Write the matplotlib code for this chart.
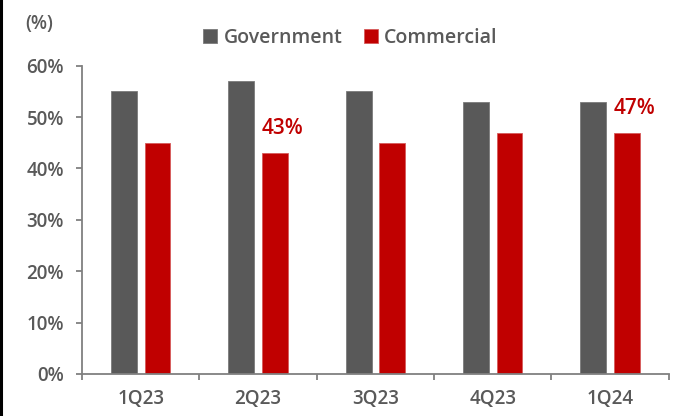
import matplotlib
matplotlib.use("Agg")
import matplotlib.pyplot as plt
import numpy as np
from matplotlib.lines import Line2D

plt.rcParams['font.family'] = ['Open Sans', 'DejaVu Sans']

quarters = ["1Q23", "2Q23", "3Q23", "4Q23", "1Q24"]
government = [55, 57, 55, 53, 53]
commercial = [45, 43, 45, 47, 47]
labelled = {1: "43%", 4: "47%"}
y_ticks = [0, 10, 20, 30, 40, 50, 60]

GREY = "#595959"
RED = "#C00000"
AXIS = "#808080"
TEXT_W = "semibold"

fig = plt.figure(figsize=(6.8, 4.16), dpi=100)
ax = fig.add_axes([0.1206, 0.101, 0.863, 0.741])

x = np.arange(len(quarters))
w = 0.22
off = 0.143
ax.bar(x - off, government, width=w, color=GREY, edgecolor="#7a7a7a", linewidth=0.6, label="Government")
bars_c = ax.bar(x + off, commercial, width=w, color=RED, edgecolor="#d65a5a", linewidth=0.6, label="Commercial")

for i, txt in labelled.items():
    b = bars_c[i]
    ax.annotate(txt, xy=(b.get_x(), b.get_height()), xytext=(0, 17.5),
                textcoords="offset points", ha="left", va="center",
                color=RED, fontsize=15, fontweight="semibold")

ax.set_xlim(-0.5, len(quarters) - 0.5)
ax.set_ylim(0, 60)
ax.set_yticks(y_ticks)
ax.set_yticklabels([f"{v}%" for v in y_ticks], fontweight=TEXT_W)
ax.set_xticks(x)
ax.set_xticklabels(quarters, fontweight=TEXT_W)
ax.set_xticks(np.arange(-0.5, len(quarters)), minor=True)

for s in ("top", "right"):
    ax.spines[s].set_visible(False)
for s in ("left", "bottom"):
    ax.spines[s].set_color(AXIS)
    ax.spines[s].set_linewidth(1.3)

ax.tick_params(axis="y", colors=AXIS, labelcolor=GREY, labelsize=13.5, length=4, width=1.3, pad=9)
ax.tick_params(axis="x", which="major", length=0, labelcolor=GREY, labelsize=13.5, pad=11)
ax.tick_params(axis="x", which="minor", length=4, width=1.3, colors=AXIS)

fig.text(0.037, 0.942, "(%)", color=GREY, fontsize=13.5, fontweight=TEXT_W, ha="left", va="center")

leg = ax.legend(loc="center", bbox_to_anchor=(0.5155, 0.909), bbox_transform=fig.transFigure,
                ncol=2, frameon=False, handlelength=0.7, handleheight=0.7,
                handletextpad=0.35, columnspacing=1.1, borderaxespad=0.0, borderpad=0.0,
                prop={"size": 14, "weight": TEXT_W})
for t in leg.get_texts():
    t.set_color(GREY)

fig.add_artist(Line2D([0.0015, 0.0015], [0, 1], transform=fig.transFigure, color="black", linewidth=2.2))

fig.savefig("out.png", dpi=100)
